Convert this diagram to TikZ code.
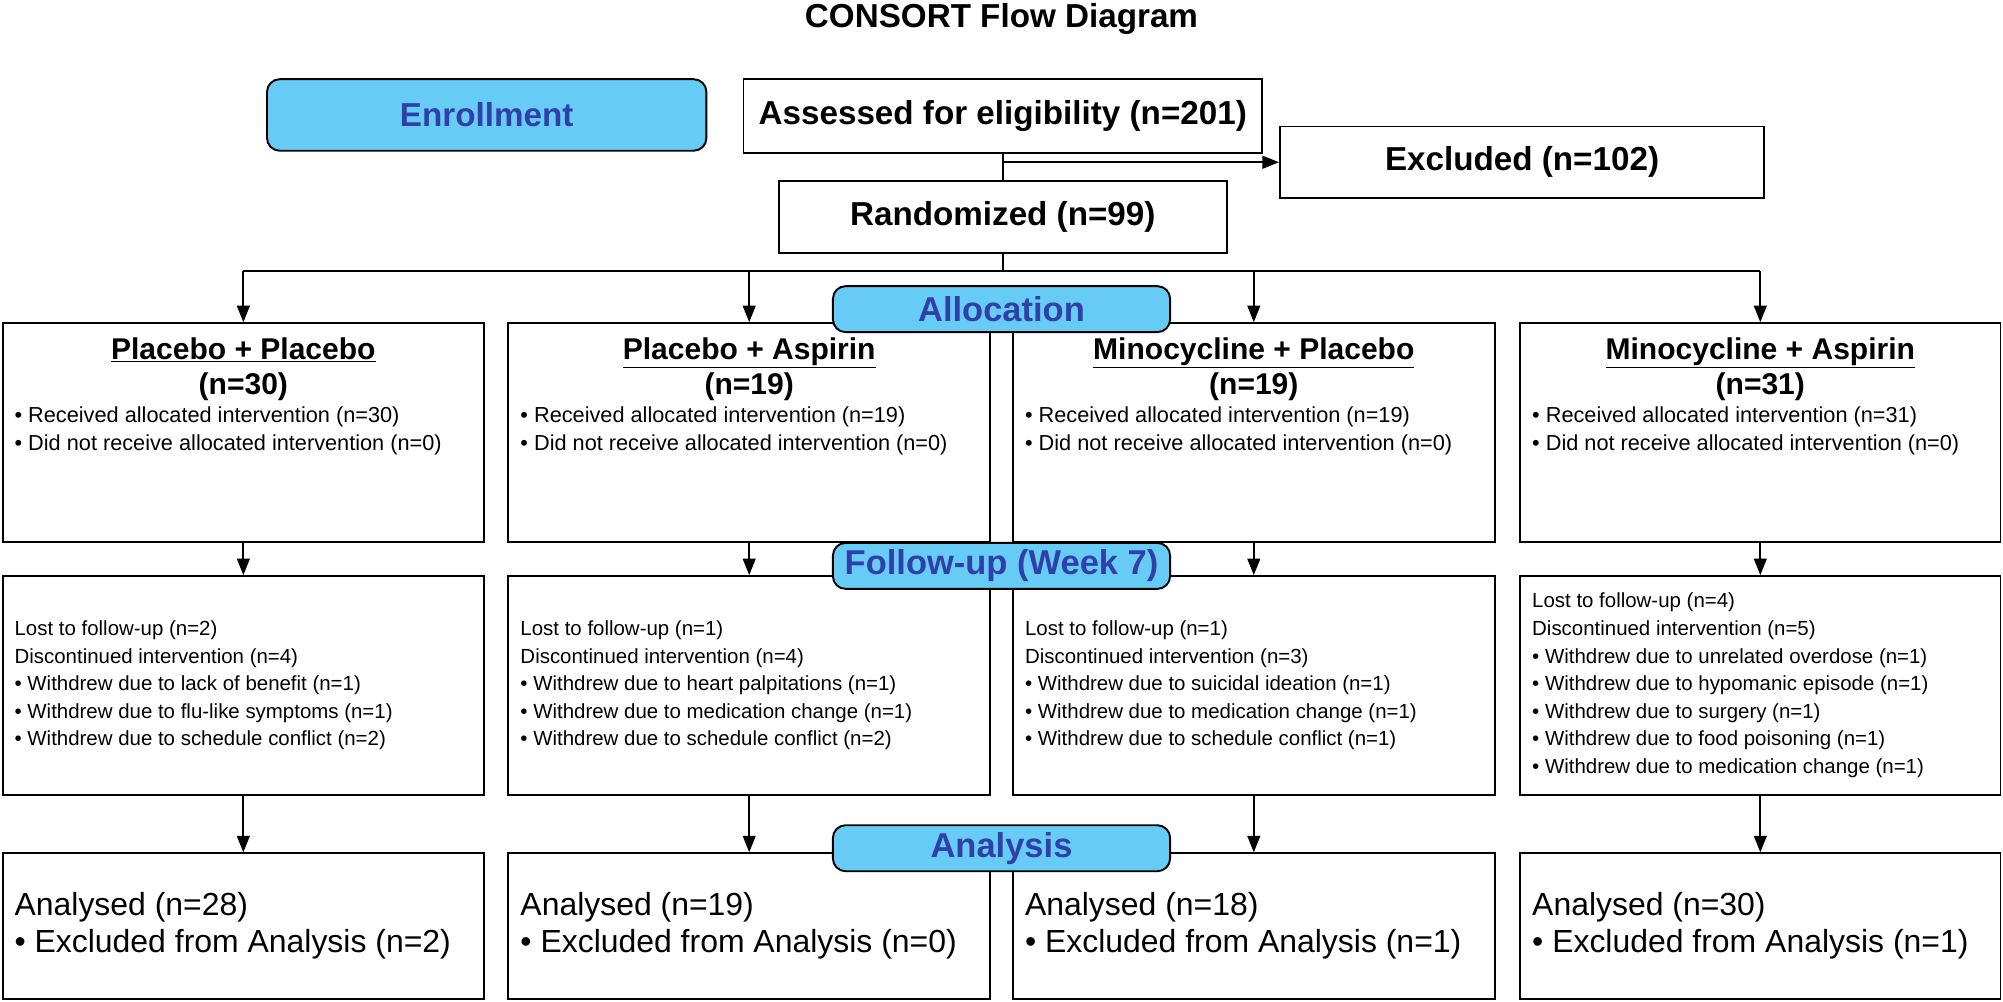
\documentclass[tikz,border=0pt]{standalone}
\usepackage{fontspec}
\setmainfont{Liberation Sans}
\usetikzlibrary{arrows.meta,positioning,calc}
\definecolor{stageBlue}{RGB}{102, 204, 245}
\definecolor{stageText}{RGB}{48, 64, 168}

\begin{document}
\begin{tikzpicture}[x=1pt,y=-1pt,
    box/.style={draw, line width=1.5pt, rectangle, inner sep=0pt},
    stage/.style={draw, line width=1.5pt, rounded corners=10pt, fill=stageBlue, text=stageText, font=\fontsize{27}{31}\selectfont\bfseries},
    arr/.style={-{Triangle[length=13pt,width=10pt]}, line width=1.5pt},
    ln/.style={line width=1.5pt},
    head/.style={font=\fontsize{23.5}{27}\selectfont\bfseries, align=center, inner sep=0pt, anchor=north},
    small/.style={font=\fontsize{17}{22}\selectfont, align=left, inner sep=0pt},
    mid/.style={font=\fontsize{16}{21.6}\selectfont, align=left, inner sep=0pt, anchor=west},
    big/.style={font=\fontsize{25}{29}\selectfont, align=left, inner sep=0pt, anchor=west}]
        \useasboundingbox (0,0) rectangle (1568,784);
        \node[font=\fontsize{26}{30}\selectfont\bfseries] (title) at (784,15) {CONSORT Flow Diagram};

        % Enrollment
        \node[stage, minimum width=344pt, minimum height=56pt, font=\fontsize{26}{30}\selectfont\bfseries] (enrol) at (381,90) {Enrollment};
        \node[box, minimum width=406pt, minimum height=58pt, font=\fontsize{26}{30}\selectfont\bfseries] (assessed) at (785,91) {Assessed for eligibility (n=201)};
        \node[box, minimum width=379pt, minimum height=56pt, font=\fontsize{26}{30}\selectfont\bfseries] (excluded) at (1191.5,127) {Excluded (n=102)};
        \node[box, minimum width=351pt, minimum height=56pt, font=\fontsize{26}{30}\selectfont\bfseries] (random) at (785,170) {Randomized (n=99)};
        \coordinate (split) at (assessed.south |- excluded.west);
        \draw[ln] (assessed.south) -- (split) -- (random.north);
        \draw[arr] (split) -- (excluded.west);

        % Allocation
        \node[box, minimum width=377pt, minimum height=171pt] (pp) at (190.5,338.5) {};
        \node[box, minimum width=377pt, minimum height=171pt] (pa) at (586.5,338.5) {};
        \node[box, minimum width=377pt, minimum height=171pt] (mp) at (981.5,338.5) {};
        \node[box, minimum width=376pt, minimum height=171pt] (ma) at (1378,338.5) {};
        \coordinate (branch) at (785,212);
        \draw[ln] (random.south) -- (branch);
        \draw[ln] (branch -| pp.north) -- (branch -| ma.north);
        \foreach \g in {pp,pa,mp,ma}
            \draw[arr] (branch -| \g.north) -- (\g.north);
        \node[stage, minimum width=264pt, minimum height=36pt] (alloc) at (784,242) {Allocation};

        \node[head] (pp_head) at ([yshift=-12pt]pp.north) {\underline{Placebo + Placebo}\\(n=30)};
        \node[head] (pa_head) at ([yshift=-12pt]pa.north) {\underline{Placebo + Aspirin}\\(n=19)};
        \node[head] (mp_head) at ([yshift=-12pt]mp.north) {\underline{Minocycline + Placebo}\\(n=19)};
        \node[head] (ma_head) at ([yshift=-12pt]ma.north) {\underline{Minocycline + Aspirin}\\(n=31)};
        \node[small, anchor=north west] (pp_text) at ([xshift=10pt,yshift=-66pt]pp.north west) {• Received allocated intervention (n=30)\\• Did not receive allocated intervention (n=0)};
        \node[small, anchor=north west] (pa_text) at ([xshift=10pt,yshift=-66pt]pa.north west) {• Received allocated intervention (n=19)\\• Did not receive allocated intervention (n=0)};
        \node[small, anchor=north west] (mp_text) at ([xshift=10pt,yshift=-66pt]mp.north west) {• Received allocated intervention (n=19)\\• Did not receive allocated intervention (n=0)};
        \node[small, anchor=north west] (ma_text) at ([xshift=10pt,yshift=-66pt]ma.north west) {• Received allocated intervention (n=31)\\• Did not receive allocated intervention (n=0)};

        % Follow-up
        \node[box, minimum width=377pt, minimum height=171pt] (fu_pp) at (190.5,536.5) {};
        \node[box, minimum width=377pt, minimum height=171pt] (fu_pa) at (586.5,536.5) {};
        \node[box, minimum width=377pt, minimum height=171pt] (fu_mp) at (981.5,536.5) {};
        \node[box, minimum width=376pt, minimum height=171pt] (fu_ma) at (1378,536.5) {};
        \foreach \g in {pp,pa,mp,ma}
            \draw[arr] (\g.south) -- (fu_\g.north);
        \node[stage, minimum width=264pt, minimum height=36pt] (follow) at (784,443) {Follow-up (Week 7)};

        \node[mid] (fu_pp_text) at ([xshift=10pt]fu_pp.west) {Lost to follow-up (n=2)\\Discontinued intervention (n=4)\\• Withdrew due to lack of benefit (n=1)\\• Withdrew due to flu-like symptoms (n=1)\\• Withdrew due to schedule conflict (n=2)};
        \node[mid] (fu_pa_text) at ([xshift=10pt]fu_pa.west) {Lost to follow-up (n=1)\\Discontinued intervention (n=4)\\• Withdrew due to heart palpitations (n=1)\\• Withdrew due to medication change (n=1)\\• Withdrew due to schedule conflict (n=2)};
        \node[mid] (fu_mp_text) at ([xshift=10pt]fu_mp.west) {Lost to follow-up (n=1)\\Discontinued intervention (n=3)\\• Withdrew due to suicidal ideation (n=1)\\• Withdrew due to medication change (n=1)\\• Withdrew due to schedule conflict (n=1)};
        \node[mid] (fu_ma_text) at ([xshift=10pt]fu_ma.west) {Lost to follow-up (n=4)\\Discontinued intervention (n=5)\\• Withdrew due to unrelated overdose (n=1)\\• Withdrew due to hypomanic episode (n=1)\\• Withdrew due to surgery (n=1)\\• Withdrew due to food poisoning (n=1)\\• Withdrew due to medication change (n=1)};

        % Analysis
        \node[box, minimum width=377pt, minimum height=114pt] (an_pp) at (190.5,725) {};
        \node[box, minimum width=377pt, minimum height=114pt] (an_pa) at (586.5,725) {};
        \node[box, minimum width=377pt, minimum height=114pt] (an_mp) at (981.5,725) {};
        \node[box, minimum width=376pt, minimum height=114pt] (an_ma) at (1378,725) {};
        \foreach \g in {pp,pa,mp,ma}
            \draw[arr] (fu_\g.south) -- (an_\g.north);
        \node[stage, minimum width=264pt, minimum height=36pt] (analysis) at (784,664) {Analysis};

        \node[big] (an_pp_text) at ([xshift=10pt]an_pp.west) {Analysed (n=28)\\• Excluded from Analysis (n=2)};
        \node[big] (an_pa_text) at ([xshift=10pt]an_pa.west) {Analysed (n=19)\\• Excluded from Analysis (n=0)};
        \node[big] (an_mp_text) at ([xshift=10pt]an_mp.west) {Analysed (n=18)\\• Excluded from Analysis (n=1)};
        \node[big] (an_ma_text) at ([xshift=10pt]an_ma.west) {Analysed (n=30)\\• Excluded from Analysis (n=1)};
    \end{tikzpicture}
\end{document}
